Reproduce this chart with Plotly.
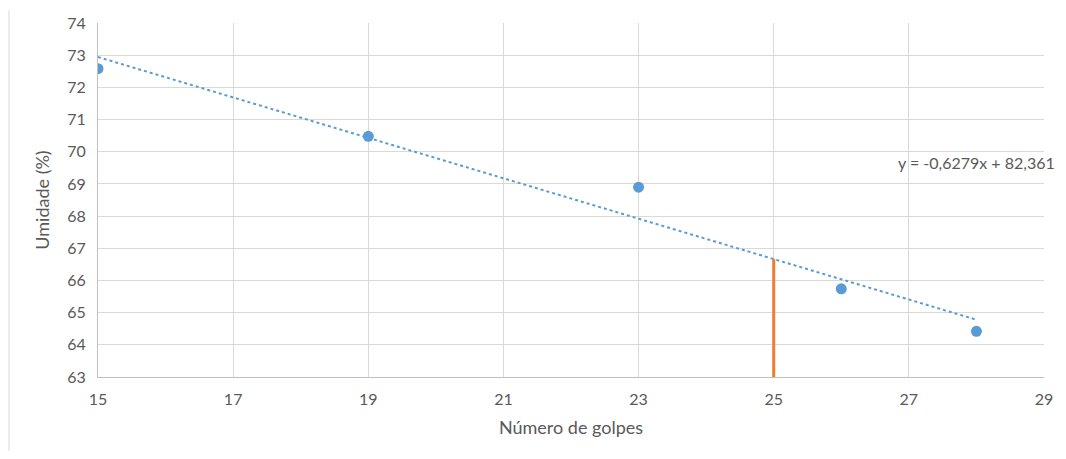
import plotly.graph_objects as go

golpes = [15, 19, 23, 26, 28]
umidade = [72.58, 70.48, 68.9, 65.74, 64.42]
slope = -0.6279
intercept = 82.361
trend_x = [15, 28]
trend_y = [slope * x + intercept for x in trend_x]
ref_x = [25, 25]
ref_y = [63, slope * 25 + intercept]
x_ticks = [15, 17, 19, 21, 23, 25, 27, 29]
y_ticks = list(range(63, 75))

font = "Lato, Open Sans, sans-serif"
fig = go.Figure()
fig.add_trace(go.Scatter(x=trend_x, y=trend_y, mode="lines",
                         line=dict(color="#5b9bd5", width=2, dash="dot"), hoverinfo="skip"))
fig.add_trace(go.Scatter(x=ref_x, y=ref_y, mode="lines",
                         line=dict(color="#ed7d31", width=3)))
fig.add_trace(go.Scatter(x=golpes, y=umidade, mode="markers",
                         marker=dict(color="#5b9bd5", size=11)))

fig.update_layout(
    width=1050, height=443, showlegend=False,
    paper_bgcolor="white", plot_bgcolor="white",
    margin=dict(l=90, r=14, t=15, b=74),
    font=dict(family=font, color="#595959", size=16),
    xaxis=dict(range=[15, 29], tickvals=x_ticks, showgrid=True, gridcolor="#d9d9d9",
               gridwidth=1, zeroline=False, showline=True, linecolor="#bfbfbf", linewidth=1,
               ticks="", ticklabelstandoff=8, automargin=False,
               title=dict(text="Número de golpes", font=dict(size=18, color="#595959"), standoff=14)),
    yaxis=dict(range=[63, 74], tickvals=y_ticks, showgrid=True, gridcolor="#d9d9d9",
               gridwidth=1, zeroline=False, showline=True, linecolor="#bfbfbf", linewidth=1,
               ticks="", ticklabelstandoff=8, automargin=False,
               title=dict(text="Umidade (%)", font=dict(size=18, color="#595959"), standoff=12)),
    shapes=[dict(type="line", xref="paper", yref="paper", x0=-0.0941, x1=-0.0941, y0=-0.209, y1=1.037,
                 line=dict(color="#d9d9d9", width=1))],
    annotations=[dict(x=26.81, y=69.65, xref="x", yref="y", xanchor="left", yanchor="middle",
                      text="y = -0,6279x + 82,361", showarrow=False,
                      font=dict(size=16, color="#595959", family=font))],
)
fig.write_html("out.html")
